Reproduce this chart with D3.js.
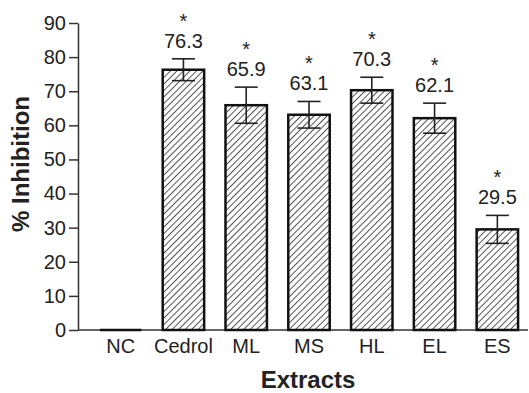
<!DOCTYPE html>
<html>
<head>
<meta charset="utf-8">
<script src="https://cdn.jsdelivr.net/npm/d3@7"></script>
<style>
  html, body { margin: 0; padding: 0; background: #fff; }
  svg { display: block; font-family: "Liberation Sans", Arial, sans-serif; }
</style>
</head>
<body>
<svg id="chart" width="529" height="393"></svg>
<script>
const extracts = ["NC", "Cedrol", "ML", "MS", "HL", "EL", "ES"];
const inhibition = [0, 76.3, 65.9, 63.1, 70.3, 62.1, 29.5];
const errors = [0, 3.2, 5.3, 3.9, 3.8, 4.4, 4.1];
const signif = [false, true, true, true, true, true, true];
const yTicks = [0, 10, 20, 30, 40, 50, 60, 70, 80, 90];

const svg = d3.select("#chart");

const x = d3.scaleBand()
  .domain(extracts)
  .range([88, 530])
  .paddingInner(0.34)
  .paddingOuter(0.19);

const y = d3.scaleLinear()
  .domain([0, 90])
  .range([330, 23]);

// hatch pattern
svg.append("defs").append("pattern")
  .attr("id", "hatch")
  .attr("patternUnits", "userSpaceOnUse")
  .attr("width", 4.6).attr("height", 4.6)
  .attr("patternTransform", "rotate(45)")
  .append("line")
    .attr("x1", 0).attr("y1", 0).attr("x2", 0).attr("y2", 4.6)
    .attr("stroke", "#111").attr("stroke-width", 1.4);

// y axis
const yAxis = svg.append("g")
  .attr("transform", "translate(78,0)")
  .call(d3.axisLeft(y).tickValues(yTicks).tickSize(9).tickPadding(3).tickSizeOuter(0));
yAxis.select(".domain").attr("stroke", "#333").attr("stroke-width", 1.5);
yAxis.selectAll(".tick line").attr("stroke", "#333").attr("stroke-width", 1.5);
yAxis.selectAll(".tick text")
  .attr("font-size", 20).attr("fill", "#222")
  .attr("font-family", "Liberation Sans, Arial, sans-serif");

// x axis line
svg.append("line")
  .attr("x1", 78).attr("x2", 528)
  .attr("y1", y(0)).attr("y2", y(0))
  .attr("stroke", "#333").attr("stroke-width", 1.5);

// x labels
svg.append("g").selectAll("text")
  .data(extracts)
  .join("text")
    .attr("x", d => x(d) + x.bandwidth() / 2)
    .attr("y", 352.5)
    .attr("text-anchor", "middle")
    .attr("font-size", 20)
    .attr("fill", "#222")
    .text(d => d);

const data = extracts.map((k, i) => ({ k, v: inhibition[i], e: errors[i], s: signif[i] }));

// bars
svg.append("g").selectAll("rect")
  .data(data.filter(d => d.v > 0))
  .join("rect")
    .attr("x", d => x(d.k))
    .attr("y", d => y(d.v))
    .attr("width", x.bandwidth())
    .attr("height", d => y(0) - y(d.v))
    .attr("fill", "url(#hatch)")
    .attr("stroke", "#111")
    .attr("stroke-width", 2.5);

// NC zero bar
svg.append("g").selectAll("line")
  .data(data.filter(d => d.v === 0))
  .join("line")
    .attr("x1", d => x(d.k)).attr("x2", d => x(d.k) + x.bandwidth())
    .attr("y1", y(0)).attr("y2", y(0))
    .attr("stroke", "#111").attr("stroke-width", 2.5);

// error bars
const capW = 23;
const cx = d => x(d.k) + x.bandwidth() / 2;
const eb = svg.append("g").selectAll("g")
  .data(data.filter(d => d.e > 0))
  .join("g")
    .attr("stroke", "#222").attr("stroke-width", 1.6);
eb.append("line")
  .attr("x1", cx).attr("x2", cx)
  .attr("y1", d => y(d.v + d.e)).attr("y2", d => y(d.v - d.e));
eb.append("line")
  .attr("x1", d => cx(d) - capW / 2).attr("x2", d => cx(d) + capW / 2)
  .attr("y1", d => y(d.v + d.e)).attr("y2", d => y(d.v + d.e));
eb.append("line")
  .attr("x1", d => cx(d) - capW / 2).attr("x2", d => cx(d) + capW / 2)
  .attr("y1", d => y(d.v - d.e)).attr("y2", d => y(d.v - d.e));

// value labels and asterisks
const lab = svg.append("g").selectAll("g")
  .data(data.filter(d => d.s))
  .join("g");
lab.append("text")
  .attr("x", cx)
  .attr("y", d => y(d.v + d.e) - 11)
  .attr("text-anchor", "middle")
  .attr("font-size", 20)
  .attr("fill", "#222")
  .text(d => d.v.toFixed(1));
lab.append("text")
  .attr("x", cx)
  .attr("y", d => y(d.v + d.e) - 31)
  .attr("text-anchor", "middle")
  .attr("font-size", 20)
  .attr("fill", "#222")
  .text("*");

// axis titles
svg.append("text")
  .attr("transform", "translate(29,164) rotate(-90)")
  .attr("text-anchor", "middle")
  .attr("font-size", 24)
  .attr("font-weight", "bold")
  .attr("fill", "#222")
  .text("% Inhibition");

svg.append("text")
  .attr("x", 308)
  .attr("y", 388)
  .attr("text-anchor", "middle")
  .attr("font-size", 24)
  .attr("font-weight", "bold")
  .attr("fill", "#222")
  .text("Extracts");
</script>
</body>
</html>
